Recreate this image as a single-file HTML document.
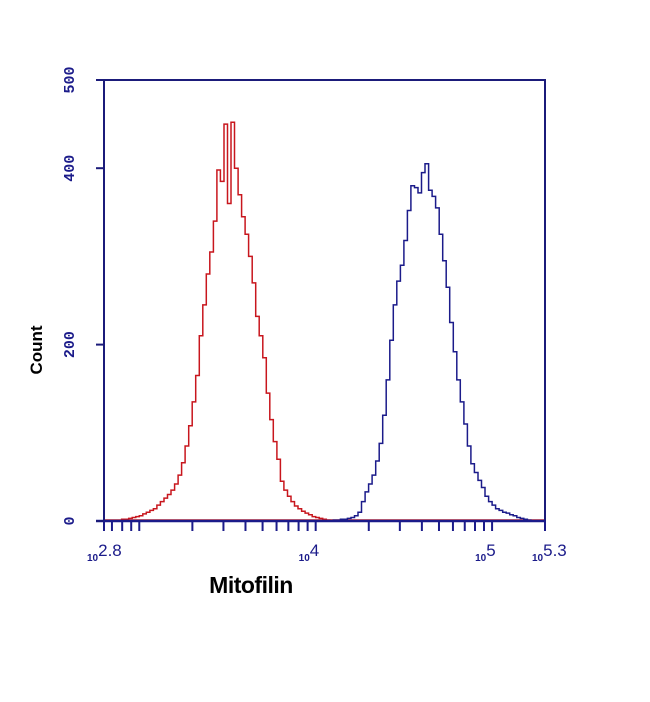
<!DOCTYPE html>
<html><head><meta charset="utf-8"><style>
html,body{margin:0;padding:0;background:#fff;}
svg{display:block;}
</style></head><body>
<svg id="chart" width="650" height="702" viewBox="0 0 650 702" xmlns="http://www.w3.org/2000/svg">
<rect x="0" y="0" width="650" height="702" fill="#fff"/>
<g id="plot"></g>
<g id="axes"></g>
<text transform="translate(42,350) rotate(-90)" text-anchor="middle" font-family="'Liberation Sans',sans-serif" font-weight="bold" font-size="17" fill="#000">Count</text>
<text x="251" y="593" text-anchor="middle" font-family="'Liberation Sans',sans-serif" font-weight="bold" font-size="23" letter-spacing="-0.5" fill="#000">Mitofilin</text>
</svg>
<script>
const redStart = 2.90;
const blueStart = 4.10;
const binWidth = 0.02;
const redCounts = [2,2,3,4,5,6,8,10,12,14,18,22,26,30,35,42,52,66,85,108,135,165,210,245,280,305,340,398,385,450,360,452,400,370,345,325,300,270,232,210,185,145,115,90,70,45,35,28,22,17,14,11,9,7,5,4,3,2,1];
const blueCounts = [1,1,2,2,3,4,6,10,22,33,42,52,68,88,120,160,205,245,272,290,318,352,380,378,372,395,405,375,368,355,325,295,265,225,192,160,135,110,85,65,55,46,38,28,22,18,14,12,10,9,7,6,4,3,2,1];
const yTicks = [0,200,400,500];
const yTickLabels = ["0","200","400","500"];
const xMin = 2.8, xMax = 5.3, yMax = 500;
const X0=104, X1=545, Y0=521, Y1=80;
const NS="http://www.w3.org/2000/svg";
function sx(l){return X0+(l-xMin)/(xMax-xMin)*(X1-X0);}
function sy(c){return Y0-c/yMax*(Y0-Y1);}
function mk(tag,attrs,parent){const e=document.createElementNS(NS,tag);for(const k in attrs)e.setAttribute(k,attrs[k]);parent.appendChild(e);return e;}
const plot=document.getElementById('plot');
const axes=document.getElementById('axes');
function hist(start,counts,color,name){
  let d="M"+sx(start).toFixed(1)+","+sy(0).toFixed(1);
  counts.forEach((c,i)=>{
    const a=sx(start+i*binWidth), b=sx(start+(i+1)*binWidth);
    d+=" L"+a.toFixed(1)+","+sy(c).toFixed(1)+" L"+b.toFixed(1)+","+sy(c).toFixed(1);
  });
  d+=" L"+sx(start+counts.length*binWidth).toFixed(1)+","+sy(0).toFixed(1);
  const p=mk('path',{d:d,fill:'none',stroke:color,'stroke-width':1.5},plot);
  
  
}
const bl=mk('line',{x1:X0,y1:Y0-1,x2:X1,y2:Y0-1,stroke:'#d02020','stroke-width':1.5},plot);


hist(redStart,redCounts,'#c8161d','red-series');
hist(blueStart,blueCounts,'#1b1b8a','blue-series');
const fr=mk('path',{d:`M${X0},${Y1} L${X1},${Y1} L${X1},${Y0}`,fill:'none',stroke:'#1b1b7a','stroke-width':2},axes);


const ya=mk('line',{x1:X0,y1:Y1,x2:X0,y2:Y0,stroke:'#1b1b7a','stroke-width':2},axes);


const xa=mk('line',{x1:X0-8,y1:Y0,x2:X1,y2:Y0,stroke:'#1b1b8a','stroke-width':2.5},axes);


yTicks.forEach((v,i)=>{
  const t=mk('line',{x1:X0-8,y1:sy(v),x2:X0,y2:sy(v),stroke:'#1b1b7a','stroke-width':2},axes);
  
  
  const tx=mk('text',{transform:`translate(74,${sy(v)}) rotate(-90)`,'text-anchor':'middle','font-family':"'Liberation Mono',monospace",'font-size':15,'font-weight':'bold',fill:'#1b1b8a'},axes);
  tx.textContent=yTickLabels[i];
  
  
});
const xt=[];
[7,8,9].forEach(m=>xt.push(2+Math.log10(m)));
for(let dd=3;dd<=5;dd++)for(let m=1;m<=9;m++){const l=dd+Math.log10(m);if(l<=xMax)xt.push(l);}
xt.push(xMin,xMax);
xt.forEach(l=>{
  if(l<xMin-1e-9)return;
  const t=mk('line',{x1:sx(l),y1:Y0,x2:sx(l),y2:Y0+10,stroke:'#1b1b8a','stroke-width':2},axes);
  
  
});
const xLabels=[{l:2.8,e:"2.8",dx:0},{l:4,e:"4",dx:0},{l:5,e:"5",dx:0},{l:5.3,e:"5.3",dx:4}];
xLabels.forEach(o=>{
  const g=mk('text',{x:sx(o.l)-17+o.dx,y:561,'font-family':"'Liberation Sans',sans-serif",fill:'#1b1b8a'},axes);
  
  
  const a=mk('tspan',{'font-size':10,'font-weight':'bold',dy:0},g);a.textContent="10";
  const b=mk('tspan',{'font-size':17,dy:-5},g);b.textContent=o.e;
});
</script>
</body></html>
